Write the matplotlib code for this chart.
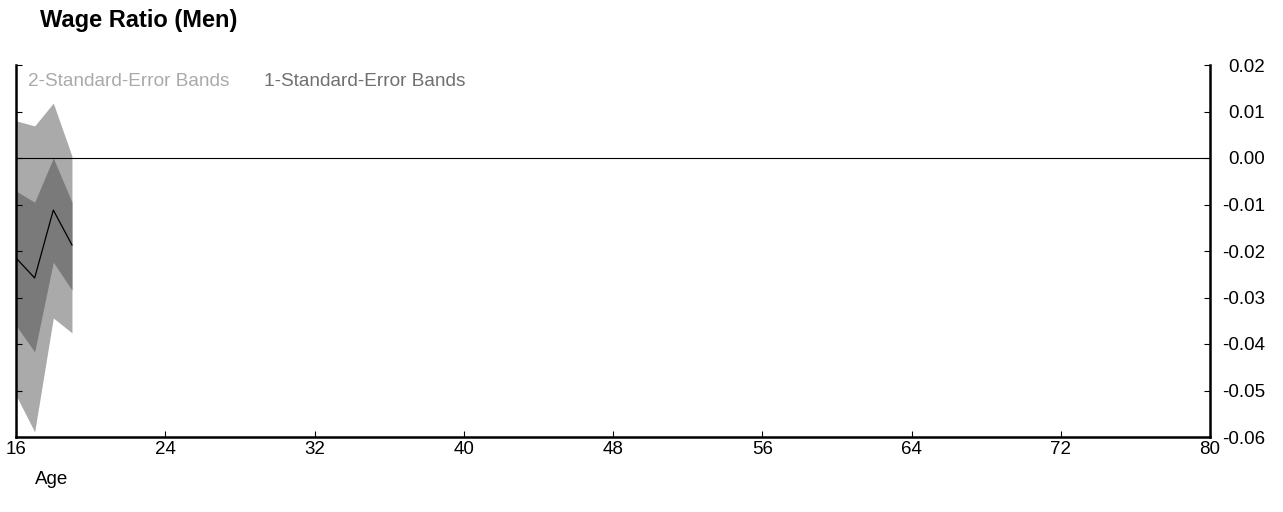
import matplotlib
matplotlib.use("Agg")
import matplotlib.pyplot as plt

plt.rcParams['font.family'] = ['Liberation Sans', 'DejaVu Sans']

ages = [16, 17, 18, 19]
estimate = [-0.0215, -0.0258, -0.0112, -0.0187]
band1_upper = [-0.0071, -0.0095, 0.0000, -0.0095]
band1_lower = [-0.0360, -0.0417, -0.0224, -0.0284]
band2_upper = [0.0080, 0.0069, 0.0118, 0.0004]
band2_lower = [-0.0510, -0.0589, -0.0344, -0.0376]

xticks = [16, 24, 32, 40, 48, 56, 64, 72, 80]
yticks = [0.02, 0.01, 0.00, -0.01, -0.02, -0.03, -0.04, -0.05, -0.06]

c2 = '#aaaaaa'
c1 = '#7a7a7a'

fig = plt.figure(figsize=(12.83, 5.12), dpi=100)
ax = fig.add_axes([16/1283, 1-437/512, (1210-16)/1283, (437-65)/512])

ax.fill_between(ages, band2_lower, band2_upper, color=c2, linewidth=0)
ax.fill_between(ages, band1_lower, band1_upper, color=c1, linewidth=0)
ax.plot(ages, estimate, color='black', linewidth=0.9)
ax.axhline(0, color='black', linewidth=0.8)

ax.set_xlim(16, 80)
ax.set_ylim(-0.06, 0.02)
ax.set_xticks(xticks)
ax.set_xticklabels([str(t) for t in xticks])
ax.set_yticks(yticks)
ax.set_yticklabels([f"{t:.2f}" for t in yticks])

ax.spines['top'].set_visible(False)
for s in ['left', 'right', 'bottom']:
    ax.spines[s].set_linewidth(1.8)
    ax.spines[s].set_color('black')

ax.tick_params(axis='x', direction='in', length=4, width=0.8, pad=3, labelsize=13.5)
ax.tick_params(axis='y', direction='in', length=4, width=0.8,
               left=True, right=True, labelleft=False, labelright=True,
               labelsize=13.5, pad=39.5)
for lbl in ax.get_yticklabels():
    lbl.set_horizontalalignment('right')

fig.text(40/1283, 1-20/512, 'Wage Ratio (Men)', fontsize=17, fontweight='bold',
         va='center', ha='left')
fig.text(28/1283, 1-82/512, '2-Standard-Error Bands', fontsize=13.7, color=c2,
         va='center', ha='left')
fig.text(264/1283, 1-82/512, '1-Standard-Error Bands', fontsize=13.7, color='#707070',
         va='center', ha='left')
fig.text(35/1283, 1-479/512, 'Age', fontsize=13.5, va='center', ha='left')

fig.savefig('out.png', dpi=100)
